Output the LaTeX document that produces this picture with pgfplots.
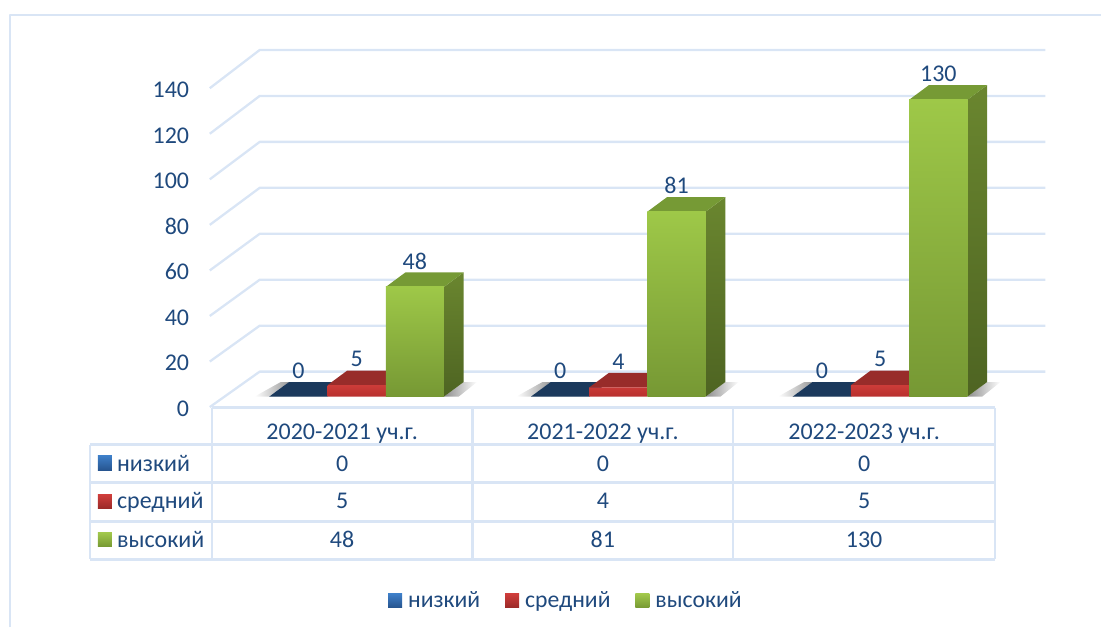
\documentclass[border=0pt]{standalone}
\usepackage{fontspec}
\setmainfont{Carlito}
\usepackage{pgfplots}
\pgfplotsset{compat=1.18}
\definecolor{gridc}{HTML}{D9E5F5}
\definecolor{txt}{HTML}{1F497D}
\definecolor{bT}{HTML}{1B395C}
\definecolor{rT}{HTML}{982C2A}
\definecolor{gT}{HTML}{769A35}
\definecolor{gS1}{HTML}{6A862F}
\definecolor{gS2}{HTML}{4E6422}
\definecolor{rF1}{HTML}{CC3C39}
\definecolor{rF2}{HTML}{B8302E}
\definecolor{gF1}{HTML}{9EC848}
\definecolor{gF2}{HTML}{769834}
\definecolor{bL1}{HTML}{3E7FC9}
\definecolor{bL2}{HTML}{26548E}
\definecolor{rL1}{HTML}{CF3D3B}
\definecolor{rL2}{HTML}{9B2A28}
\definecolor{gL1}{HTML}{A2C84C}
\definecolor{gL2}{HTML}{779A33}
\pgfplotsset{
  wall/.style={draw=gridc,line width=2.3pt,line join=round,forget plot,no markers},
  face/.style={draw=none,forget plot,no markers},
  topG/.style={face,fill=gT},
  topR/.style={face,fill=rT},
  topB/.style={face,fill=bT},
  sideG/.style={face,shade,top color=gS1,bottom color=gS2},
  shL/.style={face,shade,left color=white,right color=black!40},
  shR/.style={face,shade,left color=black!45,right color=white},
  frontG/.style={ybar,bar width=58.3pt,bar shift=58.3pt,draw=none,shade,
    top color=gF1,bottom color=gF2,
    nodes near coords style={xshift=58.3pt}},
}
\begin{document}
\begin{tikzpicture}
\tikzset{lab/.style={text=txt,inner sep=0pt,font=\fontsize{24}{28}\selectfont}}
\begin{axis}[
  at={(0pt,0pt)},anchor=south west,
  scale only axis,width=1102pt,height=628pt,
  axis lines=none,clip=false,
  xmin=-1.362595,xmax=2.843511,ymin=-101.05,ymax=173.67,
  legend style={at={(axis cs:0.7958,-89.2)},anchor=center,draw=none,fill=none,
    font=\fontsize{23.7}{28}\selectfont,text=txt,legend columns=3,
    nodes={inner sep=0pt,anchor=base west},
    /tikz/every odd column/.append style={column sep=6pt},
    /tikz/every even column/.append style={column sep=25pt}},
]
% outer frame
\addplot[wall] coordinates {(-1.32443,-101.05)(-1.32443,167.10)(2.843511,167.10)};
% walls and floor grid
\addplot[wall] coordinates {(-0.56107,-4.59)(-0.37023,10.94)(2.63168,10.94)};
\addplot[wall] coordinates {(-0.56107,15.35)(-0.37023,31.06)(2.63168,31.06)};
\addplot[wall] coordinates {(-0.56107,35.30)(-0.37023,51.18)(2.63168,51.18)};
\addplot[wall] coordinates {(-0.56107,55.25)(-0.37023,71.30)(2.63168,71.30)};
\addplot[wall] coordinates {(-0.56107,75.20)(-0.37023,91.43)(2.63168,91.43)};
\addplot[wall] coordinates {(-0.56107,95.14)(-0.37023,111.55)(2.63168,111.55)};
\addplot[wall] coordinates {(-0.56107,115.09)(-0.37023,131.67)(2.63168,131.67)};
\addplot[wall] coordinates {(-0.56107,135.04)(-0.37023,151.79)(2.63168,151.79)};
% floor shadows
\addplot[shL] coordinates {(-0.39,0)(-0.33378,0)(-0.25859,6.387)(-0.29,6.387)} --cycle;
\addplot[shR] coordinates {(0.33378,0)(0.40897,6.387)(0.46,6.387)(0.39,0)} --cycle;
\addplot[shL] coordinates {(0.61,0)(0.66622,0)(0.74141,6.387)(0.71,6.387)} --cycle;
\addplot[shR] coordinates {(1.33378,0)(1.40897,6.387)(1.46,6.387)(1.39,0)} --cycle;
\addplot[shL] coordinates {(1.61,0)(1.66622,0)(1.74141,6.387)(1.71,6.387)} --cycle;
\addplot[shR] coordinates {(2.33378,0)(2.40897,6.387)(2.46,6.387)(2.39,0)} --cycle;
% tops of the low series
\addplot[topB] coordinates {(-0.33378,0)(-0.11126,0)(-0.03607,6.387)(-0.25859,6.387)} --cycle;
\addplot[topB] coordinates {(0.66622,0)(0.88874,0)(0.96393,6.387)(0.74141,6.387)} --cycle;
\addplot[topB] coordinates {(1.66622,0)(1.88874,0)(1.96393,6.387)(1.74141,6.387)} --cycle;
\addplot[topR] coordinates {(-0.11126,5)(0.11126,5)(0.18645,11.387)(-0.03607,11.387)} --cycle;
\addplot[topR] coordinates {(0.88874,4)(1.11126,4)(1.18645,10.387)(0.96393,10.387)} --cycle;
\addplot[topR] coordinates {(1.88874,5)(2.11126,5)(2.18645,11.387)(1.96393,11.387)} --cycle;
% sides and tops of the high series
\addplot[sideG] coordinates {(0.33378,0)(0.40897,6.387)(0.40897,54.387)(0.33378,48)} --cycle;
\addplot[sideG] coordinates {(1.33378,0)(1.40897,6.387)(1.40897,87.387)(1.33378,81)} --cycle;
\addplot[sideG] coordinates {(2.33378,0)(2.40897,6.387)(2.40897,136.387)(2.33378,130)} --cycle;
\addplot[topG] coordinates {(0.11126,48)(0.33378,48)(0.40897,54.387)(0.18645,54.387)} --cycle;
\addplot[topG] coordinates {(1.11126,81)(1.33378,81)(1.40897,87.387)(1.18645,87.387)} --cycle;
\addplot[topG] coordinates {(2.11126,130)(2.33378,130)(2.40897,136.387)(2.18645,136.387)} --cycle;
% front faces: the series themselves
\pgfplotsset{
  every node near coord/.append style={anchor=center,yshift=26pt,text=txt,inner sep=0pt,
    font=\fontsize{24}{28}\selectfont},
  nodes near coords,
  /pgf/number format/assume math mode=true,
}
\addplot[ybar,bar width=58.3pt,bar shift=-58.3pt,draw=none,fill=bT,
  nodes near coords style={xshift=-58.3pt},
  legend image code/.code={\shade[top color=bL1,bottom color=bL2] (0pt,0pt) rectangle (14pt,14pt);}]
  coordinates {(0,0)(1,0)(2,0)};
\addlegendentry{низкий}
\addplot[ybar,bar width=58.3pt,bar shift=0pt,draw=none,shade,
  top color=rF1,bottom color=rF2,
  legend image code/.code={\shade[top color=rL1,bottom color=rL2] (0pt,0pt) rectangle (14pt,14pt);}]
  coordinates {(0,5)(1,4)(2,5)};
\addlegendentry{средний}
\addplot[frontG,
  legend image code/.code={\shade[top color=gL1,bottom color=gL2] (0pt,0pt) rectangle (14pt,14pt);}]
  coordinates {(0,48)};
\addlegendentry{высокий}
\addplot[frontG,forget plot] coordinates {(1,81)};
\addplot[frontG,forget plot] coordinates {(2,130)};
% data table lines
\draw[gridc,line width=2.3pt,line join=round] (axis cs:-0.55344,-4.81) -- (axis cs:2.43893,-4.81);
\draw[gridc,line width=2.3pt] (axis cs:-1.01908,-21.00) -- (axis cs:2.43893,-21.00);
\draw[gridc,line width=2.3pt] (axis cs:-1.01908,-37.62) -- (axis cs:2.43893,-37.62);
\draw[gridc,line width=2.3pt] (axis cs:-1.01908,-54.68) -- (axis cs:2.43893,-54.68);
\draw[gridc,line width=2.3pt] (axis cs:-1.01908,-71.30) -- (axis cs:2.43893,-71.30);
\draw[gridc,line width=2.3pt] (axis cs:-1.01908,-21.00) -- (axis cs:-1.01908,-71.30);
\draw[gridc,line width=2.3pt] (axis cs:-0.55344,-4.81) -- (axis cs:-0.55344,-71.30);
\draw[gridc,line width=2.3pt] (axis cs:0.44275,-4.81) -- (axis cs:0.44275,-71.30);
\draw[gridc,line width=2.3pt] (axis cs:1.43893,-4.81) -- (axis cs:1.43893,-71.30);
\draw[gridc,line width=2.3pt] (axis cs:2.43893,-4.81) -- (axis cs:2.43893,-71.30);
% swatches in the table
\shade[top color=bL1,bottom color=bL2] (axis cs:-0.98855,-25.81) rectangle (axis cs:-0.93511,-32.37);
\shade[top color=rL1,bottom color=rL2] (axis cs:-0.98855,-42.87) rectangle (axis cs:-0.93511,-48.99);
\shade[top color=gL1,bottom color=gL2] (axis cs:-0.98855,-59.49) rectangle (axis cs:-0.93511,-65.62);
% value axis labels
\node[lab,anchor=base east] at (axis cs:-0.63931,-8.53) {0};
\node[lab,anchor=base east] at (axis cs:-0.63931,11.37) {20};
\node[lab,anchor=base east] at (axis cs:-0.63931,31.28) {40};
\node[lab,anchor=base east] at (axis cs:-0.63931,51.18) {60};
\node[lab,anchor=base east] at (axis cs:-0.63931,71.08) {80};
\node[lab,anchor=base east] at (axis cs:-0.63931,90.99) {100};
\node[lab,anchor=base east] at (axis cs:-0.63931,110.89) {120};
\node[lab,anchor=base east] at (axis cs:-0.63931,130.79) {140};
% table text
\node[lab,anchor=base] at (axis cs:-0.05534,-18.59) {2020-2021 уч.г.};
\node[lab,anchor=base] at (axis cs:0.94084,-18.59) {2021-2022 уч.г.};
\node[lab,anchor=base] at (axis cs:1.93893,-18.59) {2022-2023 уч.г.};
\node[lab,anchor=base west] at (axis cs:-0.91603,-32.59) {низкий};
\node[lab,anchor=base west] at (axis cs:-0.91603,-49.21) {средний};
\node[lab,anchor=base west] at (axis cs:-0.91603,-66.05) {высокий};
\node[lab,anchor=base] at (axis cs:-0.05534,-32.59) {0};
\node[lab,anchor=base] at (axis cs:0.94084,-32.59) {0};
\node[lab,anchor=base] at (axis cs:1.93893,-32.59) {0};
\node[lab,anchor=base] at (axis cs:-0.05534,-49.21) {5};
\node[lab,anchor=base] at (axis cs:0.94084,-49.21) {4};
\node[lab,anchor=base] at (axis cs:1.93893,-49.21) {5};
\node[lab,anchor=base] at (axis cs:-0.05534,-66.05) {48};
\node[lab,anchor=base] at (axis cs:0.94084,-66.05) {81};
\node[lab,anchor=base] at (axis cs:1.93893,-66.05) {130};
\end{axis}
\path[use as bounding box] (0pt,0pt) rectangle (1102pt,628pt);
\end{tikzpicture}
\end{document}
